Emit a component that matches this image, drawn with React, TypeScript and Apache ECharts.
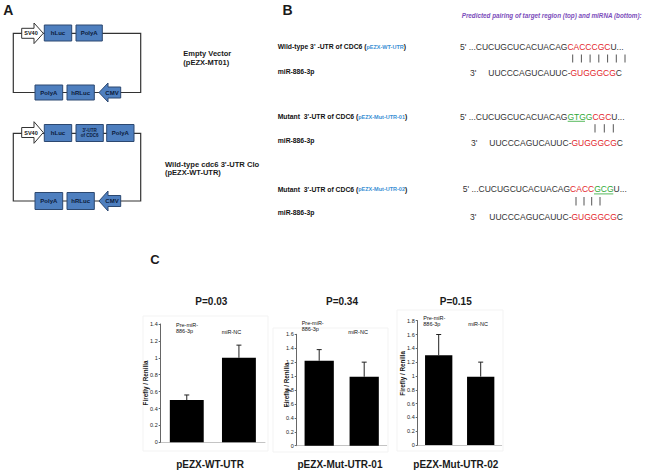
import React, { useEffect, useRef } from 'react';
import * as echarts from 'echarts';

// ---------- data ----------
const categories = ['Pre-miR-886-3p', 'miR-NC'];
const wtUtrMeans = [0.5, 1.0];
const wtUtrErrors = [0.06, 0.15];
const mut01Means = [1.22, 0.99];
const mut01Errors = [0.16, 0.21];
const mut02Means = [1.3, 0.99];
const mut02Errors = [0.3, 0.21];
const yMaxes = [1.4, 1.6, 1.8];
const pValueLabels = ['P=0.03', 'P=0.34', 'P=0.15'];
const constructNames = ['pEZX-WT-UTR', 'pEZX-Mut-UTR-01', 'pEZX-Mut-UTR-02'];
const yAxisTitle = 'Firefly / Renilla';

const SANS = "'Liberation Sans', Arial, sans-serif";
const NARROW = "'Liberation Sans Narrow', 'Liberation Sans', Arial, sans-serif";
const BOX_FILL = '#4e7fbf';
const BOX_STROKE = '#2c4870';
const BOX_TEXT = '#0b1a3a';
const RED = '#e3262b';
const GREEN = '#2fa836';
const BLUE_TXT = '#3a8fd4';

// ---------- layout ----------
const grids = [
  { left: 160.7, top: 324, width: 104.3, height: 118.3 },
  { left: 296.7, top: 334.3, width: 90, height: 111.4 },
  { left: 417.7, top: 320.7, width: 84, height: 124.3 },
];
const panelMeans = [wtUtrMeans, mut01Means, mut02Means];
const panelErrors = [wtUtrErrors, mut01Errors, mut02Errors];
const titleX = [211.3, 342, 455.7];
const nameX = [210, 340, 455.8];
const yTitlePos = [[145, 383], [286.7, 385], [402.3, 373.3]];
const preLabelPos = [[176, 325], [301.7, 323.3], [423.3, 318.3]];
const ncLabelPos = [[221.7, 331.7], [348.3, 331.7], [468.3, 324]];
const frames = [
  [143, 316, 268, 451],
  [273, 328, 388, 452],
  [397, 310, 503, 451],
];

function txt(x: number, y: number, text: string, o: any = {}) {
  return {
    type: 'text',
    x,
    y,
    rotation: o.rotation || 0,
    z: 10,
    style: {
      text,
      fontSize: o.fontSize || 7,
      fontWeight: o.fontWeight || 'normal',
      fontStyle: o.fontStyle || 'normal',
      fontFamily: o.fontFamily || SANS,
      fill: o.fill || '#1a1a1a',
      align: o.align || 'left',
      verticalAlign: o.verticalAlign || 'middle',
      lineHeight: o.lineHeight,
      rich: o.rich,
    },
  };
}

function line(x1: number, y1: number, x2: number, y2: number, stroke = '#333', lineWidth = 1) {
  return { type: 'line', z: 5, shape: { x1, y1, x2, y2 }, style: { stroke, lineWidth } };
}

function box(x1: number, y1: number, x2: number, y2: number, label: string, fontSize = 6) {
  return [
    {
      type: 'rect',
      z: 6,
      shape: { x: x1, y: y1, width: x2 - x1, height: y2 - y1 },
      style: { fill: BOX_FILL, stroke: BOX_STROKE, lineWidth: 1 },
    },
    txt((x1 + x2) / 2, (y1 + y2) / 2, label, {
      fontSize,
      fontWeight: 'bold',
      fill: BOX_TEXT,
      align: 'center',
      lineHeight: fontSize + 0.5,
    }),
  ];
}

function rightArrow(xl: number, xb: number, xt: number, cy: number, bh: number, hh: number, label: string, lx: number) {
  return [
    {
      type: 'polygon',
      z: 6,
      shape: {
        points: [
          [xl, cy - bh], [xb, cy - bh], [xb, cy - hh], [xt, cy],
          [xb, cy + hh], [xb, cy + bh], [xl, cy + bh],
        ],
      },
      style: { fill: '#ffffff', stroke: '#333', lineWidth: 1 },
    },
    txt(lx, cy, label, { fontSize: 5.5, fontWeight: 'bold', fill: '#111', align: 'center' }),
  ];
}

function leftArrow(xt: number, xb: number, xr: number, cy: number, bh: number, hh: number, label: string, lx: number) {
  return [
    {
      type: 'polygon',
      z: 6,
      shape: {
        points: [
          [xt, cy], [xb, cy - hh], [xb, cy - bh], [xr, cy - bh],
          [xr, cy + bh], [xb, cy + bh], [xb, cy + hh],
        ],
      },
      style: { fill: BOX_FILL, stroke: BOX_STROKE, lineWidth: 1 },
    },
    txt(lx, cy, label, { fontSize: 6, fontWeight: 'bold', fill: BOX_TEXT, align: 'center' }),
  ];
}

function loop(x1: number, y1: number, x2: number, y2: number) {
  return {
    type: 'rect',
    z: 4,
    shape: { x: x1, y: y1, width: x2 - x1, height: y2 - y1 },
    style: { fill: 'none', stroke: '#333', lineWidth: 1.2 },
  };
}

const seqRich = {
  k: { fill: '#333', fontSize: 8.5, fontFamily: SANS },
  r: { fill: RED, fontSize: 8.5, fontFamily: SANS },
  g: { fill: GREEN, fontSize: 8.5, fontFamily: SANS },
};
const labelRich = {
  b: { fill: '#111', fontSize: 6.8, fontWeight: 'bold', fontFamily: SANS },
  s: { fill: '#111', fontSize: 6.8, fontWeight: 'bold', fontFamily: SANS },
  c: { fill: BLUE_TXT, fontSize: 5.5, fontWeight: 'bold', fontFamily: SANS },
};

function buildGraphic() {
  const g: any[] = [];
  // panel letters
  g.push(txt(8.3, 10, 'A', { fontSize: 14, fontWeight: 'bold', align: 'center' }));
  g.push(txt(287.5, 10, 'B', { fontSize: 14, fontWeight: 'bold', align: 'center' }));
  g.push(txt(155, 259.5, 'C', { fontSize: 13, fontWeight: 'bold', align: 'center' }));

  // ----- Panel A: plasmid 1 -----
  g.push(loop(13.3, 33.3, 140.7, 92.5));
  g.push(...rightArrow(21.7, 34, 43.3, 33.3, 5, 10.3, 'SV40', 31));
  g.push(...box(44.3, 25, 71.7, 41, 'hLuc'));
  g.push(...box(76, 25, 102.3, 41, 'PolyA'));
  g.push(...box(35, 85, 62.7, 100, 'PolyA'));
  g.push(...box(67, 85, 94.3, 100, 'hRLuc'));
  g.push(...leftArrow(99, 108, 120.7, 92.5, 5.5, 9.5, 'CMV', 112));
  g.push(txt(183.3, 53, 'Empty Vector', { fontSize: 7.5, fontWeight: 'bold' }));
  g.push(txt(183.3, 62, '(pEZX-MT01)', { fontSize: 7.5, fontWeight: 'bold' }));

  // ----- Panel A: plasmid 2 -----
  g.push(loop(13.3, 133.3, 140.7, 201));
  g.push(...rightArrow(21.7, 34, 43.3, 132.5, 5, 10.8, 'SV40', 31));
  g.push(...box(44.3, 124.5, 71.7, 141.5, 'hLuc'));
  g.push(...box(76, 124.5, 103.3, 141.5, "3'-UTR\nof CDC6", 4.5));
  g.push(...box(106.7, 124.5, 134, 141.5, 'PolyA'));
  g.push(...box(35, 192.5, 62.7, 209.5, 'PolyA'));
  g.push(...box(67, 192.5, 94.3, 209.5, 'hRLuc'));
  g.push(...leftArrow(99, 108, 120.7, 201, 5.5, 10, 'CMV', 112));
  g.push(txt(165, 164, "Wild-type cdc6 3'-UTR Clo", { fontSize: 7.6, fontWeight: 'bold' }));
  g.push(txt(165, 172.7, '(pEZX-WT-UTR)', { fontSize: 7.5, fontWeight: 'bold' }));

  // ----- Panel B -----
  g.push(
    txt(461.7, 15, 'Predicted pairing of target region (top) and miRNA (bottom):', {
      fontSize: 6.3,
      fontWeight: 'bold',
      fontStyle: 'italic',
      fill: '#7c4dbb',
    })
  );
  const labelRows = [
    { y: 46.7, head: "Wild-type 3' -UTR of CDC6 ", tag: 'pEZX-WT-UTR', my: 71.7 },
    { y: 116.7, head: "Mutant  3'-UTR of CDC6 ", tag: 'pEZX-Mut-UTR-01', my: 140 },
    { y: 189.3, head: "Mutant  3'-UTR of CDC6 ", tag: 'pEZX-Mut-UTR-02', my: 212.7 },
  ];
  labelRows.forEach((r) => {
    g.push(txt(277.7, r.y, `{b|${r.head}}{s|(}{c|${r.tag}}{s|)}`, { rich: labelRich }));
    g.push(txt(277.7, r.my, 'miR-886-3p', { fontSize: 6.8, fontWeight: 'bold', fill: '#111' }));
  });

  // sequences
  g.push(txt(460, 46.7, "{k|5' ...CUCUGCUCACUACAG}{r|CACCCGC}{k|U...}", { rich: seqRich }));
  g.push(txt(460, 116.7, "{k|5' ...CUCUGCUCACUACAG}{g|GTGG}{r|CGC}{k|U...}", { rich: seqRich }));
  g.push(txt(462.7, 189.3, "{k|5' ...CUCUGCUCACUACAG}{r|CACC}{g|GCG}{k|U...}", { rich: seqRich }));
  const mirRows = [
    [470, 488.3, 72.7],
    [471, 489.3, 143.3],
    [470, 489.3, 216.7],
  ];
  mirRows.forEach(([x3, xs, y]) => {
    g.push(txt(x3, y, "3'", { fontSize: 8.5, fill: '#333' }));
    g.push(txt(xs, y, '{k|UUCCCAGUCAUUC-}{r|GUGGGCG}{k|C}', { rich: seqRich }));
  });
  // underlines for mutated bases
  g.push(line(567.7, 121.3, 585, 121.3, GREEN, 0.8));
  g.push(line(594, 193.9, 613.3, 193.9, GREEN, 0.8));
  // pairing bars
  [572.7, 581.4, 590.1, 598.8, 607.6, 616.3, 625].forEach((x) => g.push(line(x, 54.5, x, 62.5, '#555', 1)));
  [595, 604.3, 613.3].forEach((x) => g.push(line(x, 124.2, x, 132.5, '#555', 1)));
  [576, 584, 591.7, 600].forEach((x) => g.push(line(x, 197, x, 205.5, '#555', 1)));

  // ----- Panel C annotations -----
  frames.forEach(([x1, y1, x2, y2]) =>
    g.push({
      type: 'rect',
      z: 0,
      shape: { x: x1, y: y1, width: x2 - x1, height: y2 - y1 },
      style: { fill: 'none', stroke: '#f3f3f3', lineWidth: 1 },
    })
  );
  for (let i = 0; i < 3; i++) {
    g.push(txt(titleX[i], 301.7, pValueLabels[i], { fontSize: 10, fontWeight: 'bold', align: 'center' }));
    g.push(txt(nameX[i], 464.3, constructNames[i], { fontSize: 10, fontWeight: 'bold', align: 'center' }));
    g.push(
      txt(yTitlePos[i][0], yTitlePos[i][1], yAxisTitle, {
        fontSize: 6.3,
        fontWeight: 'bold',
        align: 'center',
        rotation: Math.PI / 2,
      })
    );
    g.push(
      txt(preLabelPos[i][0], preLabelPos[i][1] + 2.8, 'Pre-miR-\n886-3p', {
        fontSize: 5.5,
        fontFamily: NARROW,
        fill: '#111',
        lineHeight: 5.8,
      })
    );
    g.push(txt(ncLabelPos[i][0], ncLabelPos[i][1], 'miR-NC', { fontSize: 5.5, fontFamily: NARROW, fill: '#111' }));
  }
  return g;
}

function errorBarRender(params: any, api: any) {
  const idx = api.value(0);
  const v = api.value(1);
  const e = api.value(2);
  const p0 = api.coord([idx, v]);
  const p1 = api.coord([idx, v + e]);
  const st = { stroke: '#222', lineWidth: 1 };
  return {
    type: 'group',
    children: [
      { type: 'line', shape: { x1: p0[0], y1: p0[1], x2: p1[0], y2: p1[1] }, style: st },
      { type: 'line', shape: { x1: p1[0] - 2.5, y1: p1[1], x2: p1[0] + 2.5, y2: p1[1] }, style: st },
    ],
  };
}

function buildOption() {
  const grid: any[] = [];
  const xAxis: any[] = [];
  const yAxis: any[] = [];
  const series: any[] = [];
  for (let i = 0; i < 3; i++) {
    grid.push({ ...grids[i], containLabel: false, outerBoundsMode: 'none' });
    xAxis.push({
      gridIndex: i,
      type: 'category',
      data: categories,
      axisLabel: { show: false },
      axisTick: { show: false },
      axisLine: { show: true, lineStyle: { color: '#c4c4c4', width: 1 } },
    });
    yAxis.push({
      gridIndex: i,
      type: 'value',
      min: 0,
      max: yMaxes[i],
      interval: 0.2,
      axisLine: { show: true, lineStyle: { color: '#666', width: 1 } },
      axisTick: { show: true, length: 2, lineStyle: { color: '#666' } },
      axisLabel: { fontSize: 5.5, margin: 3, color: '#222', fontFamily: NARROW },
      splitLine: { show: false },
    });
    series.push({
      type: 'bar',
      xAxisIndex: i,
      yAxisIndex: i,
      data: panelMeans[i],
      barWidth: '65%',
      itemStyle: { color: '#000' },
      z: 2,
    });
    series.push({
      type: 'custom',
      xAxisIndex: i,
      yAxisIndex: i,
      data: panelMeans[i].map((m, j) => [j, m, panelErrors[i][j]]),
      encode: { x: 0, y: 1 },
      renderItem: errorBarRender,
      z: 3,
    });
  }
  return {
    animation: false,
    backgroundColor: '#ffffff',
    textStyle: { fontFamily: SANS },
    grid,
    xAxis,
    yAxis,
    series,
    graphic: buildGraphic(),
  };
}

export default function App() {
  const ref = useRef<HTMLDivElement>(null);
  useEffect(() => {
    const chart = echarts.init(ref.current!, null, { renderer: 'svg' });
    chart.setOption(buildOption() as any);
    return () => chart.dispose();
  }, []);
  return (
    <div
      ref={ref}
      style={{ position: 'fixed', left: 0, top: 0, width: 662, height: 473, background: '#fff' }}
    />
  );
}
